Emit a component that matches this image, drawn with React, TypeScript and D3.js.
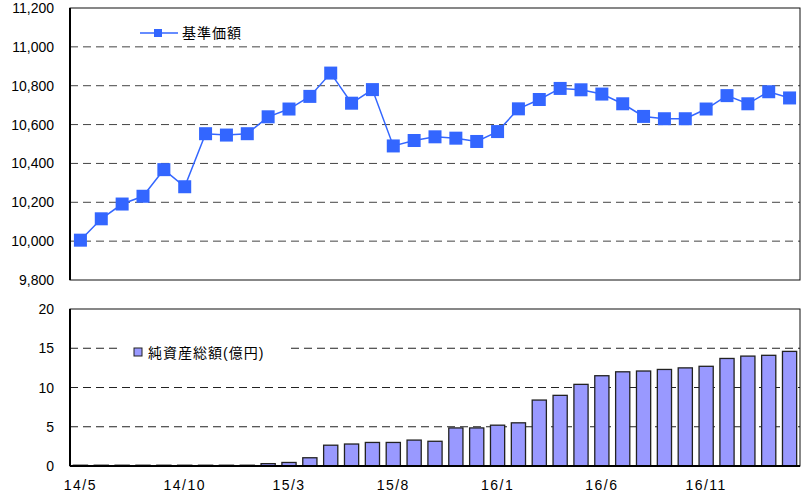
import React, {useEffect, useRef} from 'react';
import * as d3 from 'd3';

// months shown on the x axis (14/5 .. 17/3)
const months: string[] = [
  '14/5', '14/6', '14/7', '14/8', '14/9', '14/10', '14/11', '14/12',
  '15/1', '15/2', '15/3', '15/4', '15/5', '15/6', '15/7', '15/8', '15/9', '15/10', '15/11', '15/12',
  '16/1', '16/2', '16/3', '16/4', '16/5', '16/6', '16/7', '16/8', '16/9', '16/10', '16/11', '16/12',
  '17/1', '17/2', '17/3'
];

// 基準価額 (yen)
const navValues: number[] = [
  10005, 10115, 10191, 10231, 10368, 10280, 10553, 10546, 10553, 10640,
  10680, 10745, 10865, 10710, 10780, 10490, 10518, 10537, 10530, 10513,
  10564, 10681, 10729, 10786, 10779, 10757, 10707, 10642, 10630, 10630,
  10680, 10749, 10707, 10769, 10737
];

// 純資産総額 (億円)
const assetValues: number[] = [
  0.1, 0.1, 0.1, 0.1, 0.1, 0.1, 0.1, 0.1, 0.1, 0.3,
  0.45, 1.05, 2.65, 2.8, 3.0, 3.0, 3.3, 3.15, 4.85, 4.85,
  5.2, 5.5, 8.4, 9.0, 10.4, 11.5, 12.0, 12.1, 12.3, 12.5,
  12.7, 13.7, 14.0, 14.1, 14.6
];

const navTicks: number[] = [9800, 10000, 10200, 10400, 10600, 10800, 11000, 11200];
const assetTicks: number[] = [0, 5, 10, 15, 20];
const xLabels: string[] = ['14/5', '14/10', '15/3', '15/8', '16/1', '16/6', '16/11'];

const App = () => {
  const ref = useRef<SVGSVGElement>(null);

  useEffect(() => {
    const svg = d3.select(ref.current);
    svg.selectAll('*').remove();

    const font = 'Arial, "Liberation Sans", "Noto Sans CJK JP", sans-serif';
    const left = 70, right = 800;

    const x = d3.scaleBand<string>().domain(months).range([left, right]).paddingInner(0.32).paddingOuter(0.16);
    const cx = (m: string) => (x(m) as number) + x.bandwidth() / 2;

    // ---------- top panel: 基準価額 ----------
    const yTop = d3.scaleLinear().domain([9800, 11200]).range([280, 8]);

    svg.append('g').selectAll('line')
      .data(navTicks.slice(1, -1))
      .enter().append('line')
      .attr('x1', left).attr('x2', right)
      .attr('y1', d => yTop(d)).attr('y2', d => yTop(d))
      .attr('stroke', '#444').attr('stroke-width', 1)
      .attr('stroke-dasharray', '8,5');

    svg.append('rect')
      .attr('x', left).attr('y', yTop(11200))
      .attr('width', right - left).attr('height', yTop(9800) - yTop(11200))
      .attr('fill', 'none').attr('stroke', '#111').attr('stroke-width', 1);
    svg.append('line')
      .attr('x1', left).attr('x2', left).attr('y1', yTop(11200)).attr('y2', yTop(9800))
      .attr('stroke', '#000').attr('stroke-width', 2);

    svg.append('g').selectAll('text')
      .data(navTicks)
      .enter().append('text')
      .attr('x', 54).attr('y', d => yTop(d) + 5)
      .attr('text-anchor', 'end')
      .attr('font-family', font).attr('font-size', 14).attr('fill', '#000')
      .text(d => d3.format(',')(d));

    const line = d3.line<number>()
      .x((_, i) => cx(months[i]))
      .y(d => yTop(d));

    svg.append('path')
      .datum(navValues)
      .attr('d', line)
      .attr('fill', 'none').attr('stroke', '#3366ff').attr('stroke-width', 1.5);

    const ms = 13;
    svg.append('g').selectAll('rect')
      .data(navValues)
      .enter().append('rect')
      .attr('x', (_, i) => cx(months[i]) - ms / 2)
      .attr('y', d => yTop(d) - ms / 2)
      .attr('width', ms).attr('height', ms)
      .attr('fill', '#3366ff');

    // legend
    const lg = svg.append('g');
    lg.append('line').attr('x1', 140).attr('x2', 178).attr('y1', 33).attr('y2', 33)
      .attr('stroke', '#3366ff').attr('stroke-width', 1.5);
    lg.append('rect').attr('x', 154).attr('y', 29).attr('width', 8).attr('height', 8).attr('fill', '#3366ff');
    lg.append('text').attr('x', 182).attr('y', 38)
      .attr('font-family', font).attr('font-size', 14).attr('letter-spacing', 1).text('基準価額');

    // ---------- bottom panel: 純資産総額 ----------
    const yBot = d3.scaleLinear().domain([0, 20]).range([466, 309]);

    svg.append('g').selectAll('line')
      .data(assetTicks.slice(1, -1))
      .enter().append('line')
      .attr('x1', left).attr('x2', right)
      .attr('y1', d => yBot(d)).attr('y2', d => yBot(d))
      .attr('stroke', '#222').attr('stroke-width', 1)
      .attr('stroke-dasharray', '8,5');

    // legend box (white background hides gridline)
    svg.append('rect').attr('x', 122).attr('y', 342).attr('width', 166).attr('height', 20).attr('fill', '#fff');

    svg.append('g').selectAll('rect')
      .data(assetValues)
      .enter().append('rect')
      .attr('x', (_, i) => x(months[i]) as number)
      .attr('y', d => yBot(d))
      .attr('width', x.bandwidth())
      .attr('height', d => yBot(0) - yBot(d))
      .attr('fill', '#9999ff').attr('stroke', '#222').attr('stroke-width', 1.3);

    svg.append('rect')
      .attr('x', left).attr('y', yBot(20))
      .attr('width', right - left).attr('height', yBot(0) - yBot(20))
      .attr('fill', 'none').attr('stroke', '#111').attr('stroke-width', 1);
    svg.append('line')
      .attr('x1', left).attr('x2', left).attr('y1', yBot(20)).attr('y2', yBot(0))
      .attr('stroke', '#000').attr('stroke-width', 2);
    svg.append('line')
      .attr('x1', left).attr('x2', right).attr('y1', yBot(0)).attr('y2', yBot(0))
      .attr('stroke', '#000').attr('stroke-width', 2);

    svg.append('g').selectAll('text')
      .data(assetTicks)
      .enter().append('text')
      .attr('x', 54).attr('y', d => yBot(d) + 5)
      .attr('text-anchor', 'end')
      .attr('font-family', font).attr('font-size', 14).attr('fill', '#000')
      .text(d => d);

    svg.append('rect').attr('x', 134).attr('y', 348).attr('width', 8).attr('height', 8)
      .attr('fill', '#9999ff').attr('stroke', '#222').attr('stroke-width', 1);
    svg.append('text').attr('x', 148).attr('y', 358)
      .attr('font-family', font).attr('font-size', 14).attr('letter-spacing', 1).text('純資産総額(億円)');

    // x labels
    svg.append('g').selectAll('text')
      .data(xLabels)
      .enter().append('text')
      .attr('x', d => cx(d)).attr('y', 490)
      .attr('text-anchor', 'middle')
      .attr('font-family', font).attr('font-size', 14).attr('letter-spacing', 1.5)
      .text(d => d);
  }, []);

  return (
    <svg ref={ref} width={805} height={493}
      style={{position: 'absolute', left: 0, top: 0, background: '#fff'}} />
  );
};

export default App;
